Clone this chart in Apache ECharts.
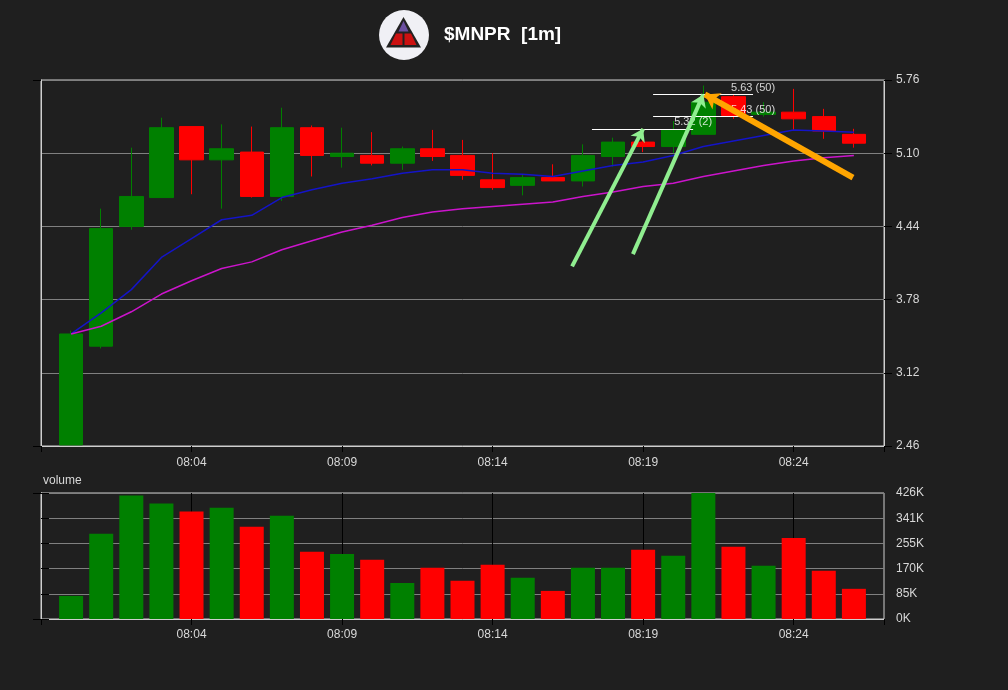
<!DOCTYPE html>
<html>
<head>
<meta charset="utf-8">
<script src="https://cdn.jsdelivr.net/npm/echarts@6/dist/echarts.min.js"></script>
<style>
  html, body { margin: 0; background: #1f1f1f; }
  #chart { width: 1008px; height: 690px; }
</style>
</head>
<body>
<div id="chart"></div>
<script>
// 1 分钟 K 线
const times = ['08:00', '08:01', '08:02', '08:03', '08:04', '08:05', '08:06', '08:07', '08:08', '08:09',
  '08:10', '08:11', '08:12', '08:13', '08:14', '08:15', '08:16', '08:17', '08:18', '08:19',
  '08:20', '08:21', '08:22', '08:23', '08:24', '08:25', '08:26']
const opens = [2.47, 3.36, 4.44, 4.70, 5.34, 5.04, 5.11, 4.71, 5.33, 5.07, 5.08, 5.01, 5.14, 5.08,
  4.86, 4.81, 4.88, 4.85, 5.07, 5.20, 5.16, 5.27, 5.61, 5.45, 5.47, 5.43, 5.27]
const closes = [3.47, 4.42, 4.71, 5.33, 5.04, 5.14, 4.71, 5.33, 5.08, 5.10, 5.01, 5.14, 5.07, 4.90,
  4.79, 4.88, 4.85, 5.08, 5.20, 5.16, 5.31, 5.56, 5.44, 5.47, 5.41, 5.30, 5.19]
const highs = [3.50, 4.60, 5.15, 5.42, 5.34, 5.36, 5.34, 5.51, 5.35, 5.33, 5.29, 5.16, 5.31, 5.22,
  5.10, 4.91, 5.00, 5.18, 5.24, 5.32, 5.39, 5.71, 5.63, 5.56, 5.68, 5.50, 5.32]
const lows = [2.47, 3.34, 4.41, 4.70, 4.73, 4.60, 4.70, 4.67, 4.89, 4.97, 4.99, 4.95, 5.03, 4.86,
  4.77, 4.72, 4.85, 4.80, 4.98, 5.11, 5.10, 5.27, 5.41, 5.43, 5.31, 5.23, 5.15]
const volumes = [78000, 288000, 417000, 390000, 363000, 376000, 312000, 349000, 227000, 220000,
  200000, 122000, 173000, 129000, 183000, 139000, 95000, 173000, 173000, 234000,
  214000, 425800, 244000, 180000, 274000, 163000, 102000]

// 均线
const maFast = [3.47, 3.66, 3.87, 4.16, 4.33, 4.50, 4.54, 4.70, 4.77, 4.83, 4.87, 4.92, 4.95, 4.95,
  4.92, 4.91, 4.89, 4.94, 4.99, 5.02, 5.08, 5.16, 5.21, 5.26, 5.31, 5.30, 5.29]
const maSlow = [3.47, 3.54, 3.67, 3.83, 3.95, 4.06, 4.12, 4.23, 4.31, 4.39, 4.45, 4.52, 4.57, 4.60,
  4.62, 4.64, 4.66, 4.71, 4.75, 4.80, 4.83, 4.89, 4.94, 4.99, 5.03, 5.06, 5.08]

// 刻度
const priceTicks = ['2.46', '3.12', '3.78', '4.44', '5.10', '5.76']
const volumeTicks = ['0K', '85K', '170K', '255K', '341K', '426K']
const timeTicks = ['08:04', '08:09', '08:14', '08:19', '08:24']

// 价位线 [价格, 起点, 终点, 文字]（起止为 K 线序号）
const levels = [
  [5.32, 17.3, 20.66, '5.32 (2)'],
  [5.43, 19.33, 22.65, '5.43 (50)'],
  [5.63, 19.33, 22.65, '5.63 (50)']
]
// 箭头 [[序号, 价格], [序号, 价格]]
const greenArrows = [
  [[16.64, 4.08], [19.0, 5.32]],
  [[18.66, 4.19], [21.0, 5.63]]
]
const orangeArrows = [
  [[25.97, 4.88], [21.05, 5.63]]
]

const chart = echarts.init(document.getElementById('chart'))

const xOf = i => i + 1
const labelColor = '#d8d8d8'
const font = 'Liberation Sans, Arial, sans-serif'
const timeLabel = v => (v > 0 && v < 28) ? times[v - 1] : ''

const candleData = times.map((t, i) => [xOf(i), opens[i], closes[i], lows[i], highs[i]])
const volumeData = times.map((t, i) => ({
  value: [xOf(i), volumes[i]],
  itemStyle: { color: closes[i] >= opens[i] ? '#008000' : '#ff0000' }
}))
const volMax = 425800

const xAxisBase = {
  type: 'value',
  min: 0,
  max: 28,
  interval: 5,
  axisLine: { show: true, lineStyle: { color: '#cfcfcf' } },
  axisTick: { show: true, length: 6, lineStyle: { color: '#000' } },
  axisLabel: { color: labelColor, fontSize: 12, fontFamily: font, margin: 10, formatter: timeLabel },
  splitLine: { show: false }
}

// 左侧只在两端画刻度
const edgeAxis = gridIndex => ({
  gridIndex,
  type: 'value',
  position: 'left',
  min: 0,
  max: 1,
  interval: 1,
  axisLine: { show: true, lineStyle: { color: '#cfcfcf' } },
  axisTick: { show: true, length: 8, lineStyle: { color: '#000' } },
  axisLabel: { show: false },
  splitLine: { show: false }
})

chart.setOption({
  backgroundColor: '#1f1f1f',
  animation: false,
  graphic: [
    { type: 'circle', shape: { cx: 404, cy: 35, r: 25 }, style: { fill: '#f0f0f5' } },
    { type: 'polygon', shape: { points: [[403.5, 17], [386, 47.5], [421, 47.5]] }, style: { fill: '#222' } },
    { type: 'polygon', shape: { points: [[403.5, 21], [398.5, 31.5], [408.5, 31.5]] }, style: { fill: '#6b4fa0' } },
    { type: 'polygon', shape: { points: [[396, 33.5], [402.5, 33.5], [402.5, 45], [390.5, 45]] }, style: { fill: '#cc1111' } },
    { type: 'polygon', shape: { points: [[404.5, 33.5], [411, 33.5], [416.5, 45], [404.5, 45]] }, style: { fill: '#cc1111' } },
    {
      type: 'text', left: 444, top: 25,
      style: { text: '$MNPR  [1m]', fill: '#fff', font: 'bold 19px ' + font }
    },
    {
      type: 'text', left: 43, top: 475,
      style: { text: 'volume', fill: labelColor, font: '12px ' + font }
    }
  ],
  grid: [
    { left: 41, right: 124, top: 80, height: 366, show: true, borderColor: '#cfcfcf', borderWidth: 1 },
    { left: 41, right: 124, top: 493, height: 126, show: true, borderColor: '#cfcfcf', borderWidth: 1 }
  ],
  xAxis: [
    Object.assign({}, xAxisBase, {
      gridIndex: 0,
      axisLabel: Object.assign({}, xAxisBase.axisLabel, { margin: 11 })
    }),
    Object.assign({}, xAxisBase, { gridIndex: 1 })
  ],
  yAxis: [
    // 价格数据轴
    { gridIndex: 0, type: 'value', position: 'right', min: 2.46, max: 5.76,
      axisLine: { show: false }, axisTick: { show: false }, axisLabel: { show: false }, splitLine: { show: false } },
    // 价格刻度
    { gridIndex: 0, type: 'value', position: 'right', min: 0, max: 5, interval: 1,
      axisLine: { show: true, lineStyle: { color: '#cfcfcf' } },
      axisTick: { show: true, length: 8, lineStyle: { color: '#000' } },
      axisLabel: { color: labelColor, fontSize: 12, fontFamily: font, margin: 12, formatter: v => priceTicks[v] },
      splitLine: { show: true, lineStyle: { color: '#808080' } } },
    edgeAxis(0),
    // 成交量
    { gridIndex: 1, type: 'value', position: 'right', min: 0, max: volMax, interval: volMax / 5,
      axisLine: { show: true, lineStyle: { color: '#cfcfcf' } },
      axisTick: { show: true, length: 8, lineStyle: { color: '#000' } },
      axisLabel: { color: labelColor, fontSize: 12, fontFamily: font, margin: 12,
        formatter: v => volumeTicks[Math.round(v / (volMax / 5))] },
      splitLine: { show: true, lineStyle: { color: '#808080' } } },
    edgeAxis(1)
  ],
  series: [
    {
      type: 'candlestick',
      xAxisIndex: 0, yAxisIndex: 0,
      barWidth: 24,
      encode: { x: 0, y: [1, 2, 3, 4] },
      data: candleData,
      itemStyle: { color: '#008000', color0: '#ff0000', borderColor: '#008000', borderColor0: '#ff0000', borderWidth: 1 }
    },
    {
      type: 'line', xAxisIndex: 0, yAxisIndex: 0, symbol: 'none',
      data: maFast.map((v, i) => [xOf(i), v]),
      lineStyle: { color: '#1414c8', width: 1.5 }
    },
    {
      type: 'line', xAxisIndex: 0, yAxisIndex: 0, symbol: 'none',
      data: maSlow.map((v, i) => [xOf(i), v]),
      lineStyle: { color: '#cc14cc', width: 1.5 }
    },
    {
      type: 'lines', coordinateSystem: 'cartesian2d', xAxisIndex: 0, yAxisIndex: 0, z: 5,
      data: levels.map(l => ({ coords: [[xOf(l[1]), l[0]], [xOf(l[2]), l[0]]] })),
      lineStyle: { color: '#fff', width: 1, opacity: 1 }
    },
    {
      type: 'scatter', xAxisIndex: 0, yAxisIndex: 0, symbolSize: 0, z: 6,
      data: levels.map(l => [xOf(l[2]), l[0], l[3]]),
      label: { show: true, position: 'top', distance: 1, color: '#fff', fontSize: 11, fontFamily: font,
        formatter: p => p.value[2] }
    },
    {
      type: 'lines', coordinateSystem: 'cartesian2d', xAxisIndex: 0, yAxisIndex: 0, z: 7,
      symbol: ['none', 'arrow'], symbolSize: 12,
      data: greenArrows.map(a => ({ coords: [[xOf(a[0][0]), a[0][1]], [xOf(a[1][0]), a[1][1]]] })),
      lineStyle: { color: '#90ee90', width: 4, opacity: 1 }
    },
    {
      type: 'lines', coordinateSystem: 'cartesian2d', xAxisIndex: 0, yAxisIndex: 0, z: 8,
      symbol: ['none', 'arrow'], symbolSize: 14,
      data: orangeArrows.map(a => ({ coords: [[xOf(a[0][0]), a[0][1]], [xOf(a[1][0]), a[1][1]]] })),
      lineStyle: { color: '#ffa500', width: 6, opacity: 1 }
    },
    // 成交量区的竖线，画在柱子后面
    {
      type: 'lines', coordinateSystem: 'cartesian2d', xAxisIndex: 1, yAxisIndex: 3, z: 1,
      data: timeTicks.map(t => ({ coords: [[xOf(times.indexOf(t)), 0], [xOf(times.indexOf(t)), volMax]] })),
      lineStyle: { color: '#000', width: 1, opacity: 1 }
    },
    {
      type: 'bar', xAxisIndex: 1, yAxisIndex: 3, barWidth: 24, z: 2,
      data: volumeData
    }
  ]
})
</script>
</body>
</html>
